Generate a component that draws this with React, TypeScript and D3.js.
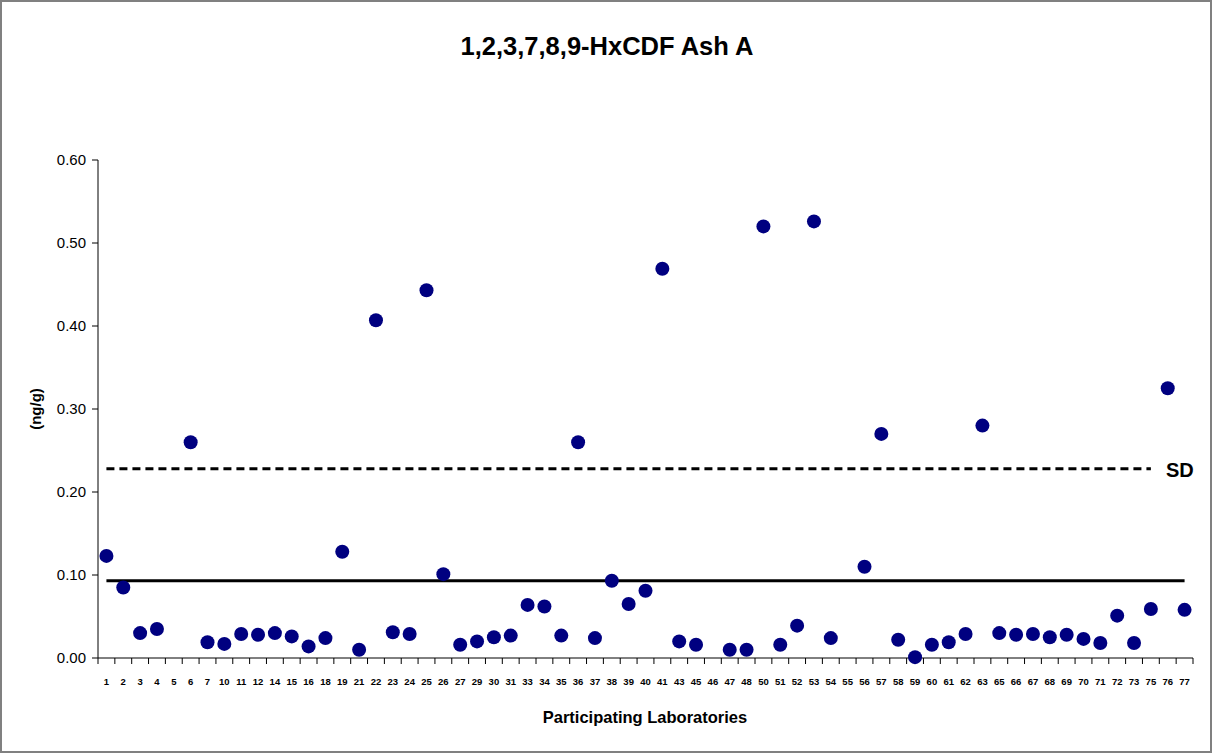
import React from "react";
import * as d3 from "d3";

const labs = [
  "1","2","3","4","5","6","7","10","11","12","14","15","16","18","19","21","22","23","24","25","26","27",
  "29","30","31","33","34","35","36","37","38","39","40","41","43","45","46","47","48","50","51","52","53",
  "54","55","56","57","58","59","60","61","62","63","65","66","67","68","69","70","71","72","73","75","76","77",
];

// null = no result reported
const values: (number | null)[] = [
  0.123, 0.085, 0.030, 0.035, null, 0.260, 0.019, 0.017, 0.029, 0.028, 0.030, 0.026, 0.014, 0.024, 0.128,
  0.010, 0.407, 0.031, 0.029, 0.443, 0.101, 0.016, 0.020, 0.025, 0.027, 0.064, 0.062, 0.027, 0.260, 0.024,
  0.093, 0.065, 0.081, 0.469, 0.020, 0.016, null, 0.010, 0.010, 0.520, 0.016, 0.039, 0.526, 0.024, null,
  0.110, 0.270, 0.022, 0.001, 0.016, 0.019, 0.029, 0.280, 0.030, 0.028, 0.029, 0.025, 0.028, 0.023, 0.018,
  0.051, 0.018, 0.059, 0.325, 0.058,
];

const yTicks = [0, 0.1, 0.2, 0.3, 0.4, 0.5, 0.6];
const meanValue = 0.093;
const sdValue = 0.228;

const W = 1213;
const H = 754;
const left = 98;
const right = 1193;
const top = 160;
const bottom = 658;

export default function App() {
  const x = d3.scaleBand<string>().domain(labs).range([left, right]).padding(0);
  const y = d3.scaleLinear().domain([0, 0.6]).range([bottom, top]);
  const cx = (l: string) => (x(l) as number) + x.bandwidth() / 2;
  const font = "Arial, 'Liberation Sans', Helvetica, sans-serif";

  return (
    <svg width={W} height={H} style={{ position: "absolute", left: 0, top: 0, display: "block" }} fontFamily={font}>
      <rect x={1} y={1} width={W - 3} height={H - 3} fill="#fff" stroke="#808080" strokeWidth={2} />
      <text x={607} y={55} textAnchor="middle" fontSize={25.5} fontWeight="bold">1,2,3,7,8,9-HxCDF Ash A</text>

      {/* y axis */}
      <line x1={left} x2={left} y1={top} y2={bottom} stroke="#000" strokeWidth={1} />
      {yTicks.map((t) => (
        <g key={t}>
          <line x1={left - 6} x2={left} y1={y(t)} y2={y(t)} stroke="#000" />
          <text x={86} y={y(t)} dy="0.35em" textAnchor="end" fontSize={15}>{t.toFixed(2)}</text>
        </g>
      ))}
      <text transform={`translate(41,${(top + bottom) / 2}) rotate(-90)`} textAnchor="middle" fontSize={15} fontWeight="bold">(ng/g)</text>

      {/* x axis */}
      <line x1={left} x2={right} y1={bottom} y2={bottom} stroke="#000" />
      {labs.map((l) => (
        <line key={"t" + l} x1={x(l) as number} x2={x(l) as number} y1={bottom} y2={bottom + 6} stroke="#000" />
      ))}
      <line x1={right} x2={right} y1={bottom} y2={bottom + 6} stroke="#000" />
      {labs.map((l) => (
        <text key={"l" + l} x={cx(l)} y={685} textAnchor="middle" fontSize={9.5} fontWeight="bold">{l}</text>
      ))}
      <text x={645} y={723} textAnchor="middle" fontSize={16.5} fontWeight="bold">Participating Laboratories</text>

      {/* mean and SD lines */}
      <line x1={cx(labs[0])} x2={cx(labs[labs.length - 1])} y1={y(meanValue)} y2={y(meanValue)} stroke="#000" strokeWidth={3} />
      <line x1={cx(labs[0])} x2={cx("75")} y1={y(sdValue)} y2={y(sdValue)} stroke="#000" strokeWidth={3} strokeDasharray="8,5" />
      <text x={1166} y={477} fontSize={20} fontWeight="bold">SD</text>

      {/* lab results */}
      {labs.map((l, i) =>
        values[i] == null ? null : (
          <circle key={"c" + l} cx={cx(l)} cy={y(values[i] as number)} r={7} fill="#000080" />
        )
      )}
    </svg>
  );
}
